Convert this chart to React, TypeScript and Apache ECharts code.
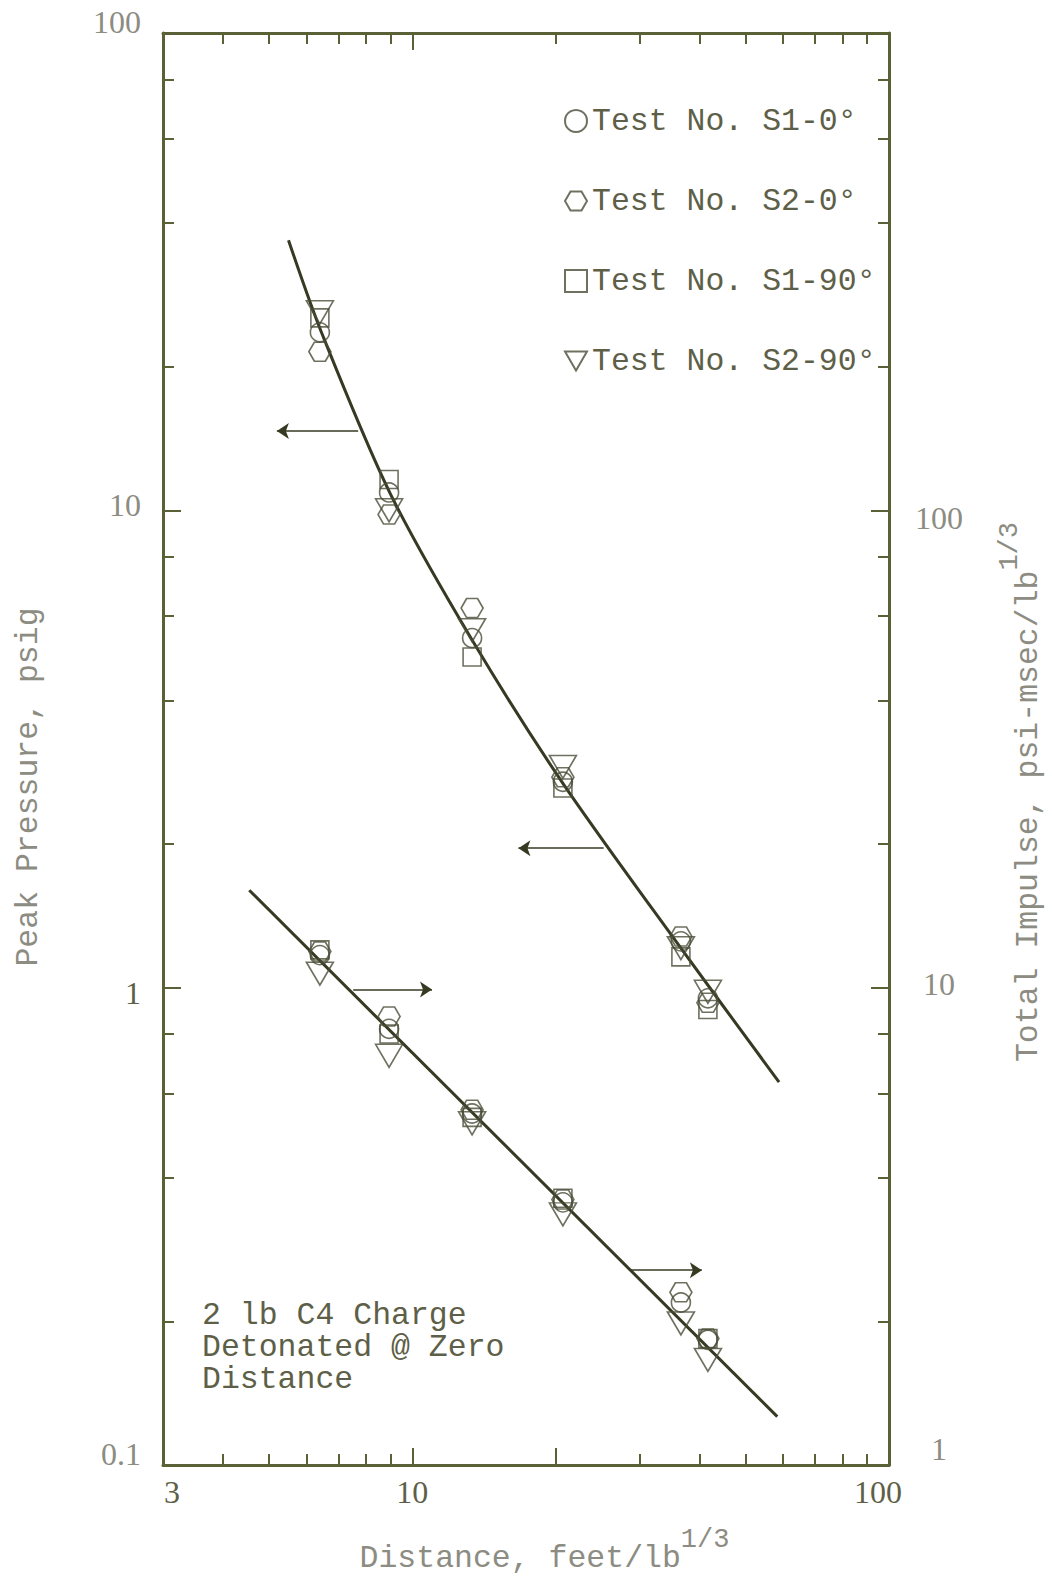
import { useEffect, useRef } from "react";
import * as echarts from "echarts";

const MONO = '"Liberation Mono", "DejaVu Sans Mono", monospace';
const SERIF = '"Liberation Serif", "DejaVu Serif", serif';

const INK = "#363a22";
const MARK = "#4b4e38";
const FRAME = "#5a6137";
const TEXT = "#5e5f48";
const FAINT = "#8c8c82";

// Scaled distance of the six gauge stations, feet/lb^1/3
const stationDist = [6.4, 8.94, 13.35, 20.7, 36.6, 41.7];

// Peak side-on pressure, psig (left axis)
const pressS1_0 = [23.6, 10.9, 5.4, 2.7, 1.25, 0.95];
const pressS2_0 = [21.5, 9.8, 6.24, 2.76, 1.28, 0.93];
const pressS1_90 = [25.3, 11.6, 4.93, 2.62, 1.16, 0.9];
const pressS2_90 = [26.0, 10.0, 5.61, 2.9, 1.21, 0.98];

// Total impulse, psi-msec/lb^1/3 (right axis)
const impS1_0 = [11.7, 8.2, 5.45, 3.55, 2.19, 1.83];
const impS2_0 = [11.9, 8.7, 5.55, 3.6, 2.3, 1.84];
const impS1_90 = [12.0, 8.0, 5.35, 3.62, null, 1.84];
const impS2_90 = [10.7, 7.2, 5.2, 3.35, 1.98, 1.66];

// Faired curves through the data
const pressFitDist = [5.5, 6.46, 8.98, 13.35, 20.7, 36.6, 58.8];
const pressFit = [36.8, 23.5, 10.87, 5.35, 2.68, 1.21, 0.634];
const impFitDist = [4.55, 58.3];
const impFit = [16.0, 1.263];

// Arrows tying each curve to its axis: [from distance, to distance, level]
const pressArrows = [
  [7.7, 5.2, 14.66],
  [25.2, 16.7, 1.96],
];
const impArrows = [
  [7.52, 11.0, 9.91],
  [28.5, 40.5, 2.56],
];

// Axis ticks and labels
const xLabels = [3, 10, 100];
const xMinor = [4, 5, 6, 7, 8, 9, 30, 40, 50, 60, 70, 80, 90];
const xMajor = [10, 20];
const leftLabels = [0.1, 1, 10, 100];
const leftMinor = [0.2, 0.4, 0.6, 0.8, 2, 4, 6, 8, 20, 40, 60, 80];
const leftMajor = [1, 10];
const rightLabels = [1, 10, 100];
const rightMinor = [2, 4, 6, 8, 20, 40, 60, 80, 200, 400, 600, 800];
const rightMajor = [10, 100];

const TESTS = [
  "Test No. S1-0°",
  "Test No. S2-0°",
  "Test No. S1-90°",
  "Test No. S2-90°",
];

const HEX = "path://M0,8.66L5,0L15,0L20,8.66L15,17.32L5,17.32Z";
const TRI = "path://M0,0L20,0L10,17.32Z";
const symbols: any[] = ["circle", HEX, "rect", TRI];
const sizes: any[] = [19, [22, 19], 18, [27, 23]];

const pressSets = [pressS1_0, pressS2_0, pressS1_90, pressS2_90];
const impSets = [impS1_0, impS2_0, impS1_90, impS2_90];

const pairs = (xs: number[], ys: (number | null)[]) =>
  xs
    .map((x, i) => [x, ys[i]])
    .filter((p) => p[1] !== null && p[1] !== undefined);

const key = (v: number) => String(Number(Number(v).toPrecision(3)));
const richName = (prefix: string, v: number) => prefix + key(v).replace(".", "p");

const tickStyle = { color: FRAME, width: 2 };
const frameLine = { show: true, onZero: false, lineStyle: { color: FRAME, width: 3 } };

function tickAxis(position: string, min: number, max: number, values: number[], length: number, line: boolean) {
  return {
    type: "log",
    logBase: 10,
    min,
    max,
    position,
    axisLine: line ? frameLine : { show: false },
    axisTick: { show: true, inside: true, length, customValues: values, lineStyle: tickStyle },
    axisLabel: { show: false },
    splitLine: { show: false },
    minorTick: { show: false },
  };
}

export default function App() {
  const ref = useRef<HTMLDivElement>(null);

  useEffect(() => {
    document.body.style.margin = "0";
    if (!ref.current) return;
    const chart = echarts.init(ref.current, undefined, { renderer: "svg" });

    const lbl = (color: string, padding: number[]) => ({ fontFamily: SERIF, fontSize: 32, color, padding });
    const xRich: any = {
      x3: lbl(TEXT, [0, 0, 0, 18]),
      x10: lbl(TEXT, [0, 0, 0, 0]),
      x100: lbl(TEXT, [0, 22, 0, 0]),
    };
    const leftRich: any = {
      l100: lbl(FAINT, [0, 0, 22, 0]),
      l10: lbl(FAINT, [0, 0, 10, 0]),
      l1: lbl(TEXT, [10, 0, 0, 0]),
      l0p1: lbl(FAINT, [0, 0, 22, 0]),
    };
    const rightRich: any = {
      r100: lbl(FAINT, [16, 0, 0, 0]),
      r10: lbl(FAINT, [0, 0, 8, 0]),
      r1: lbl(FAINT, [0, 0, 32, 0]),
    };

    // main text sits low, the 1/3 exponent rides high
    const nameRich = (color: string) => ({
      m: { fontFamily: MONO, fontSize: 31.5, color, lineHeight: 32, padding: [18, 0, 0, 0] },
      s: { fontFamily: MONO, fontSize: 27, color, lineHeight: 28, padding: [0, 0, 18, 0] },
    });

    const series: any[] = [];
    TESTS.forEach((name, i) => {
      const common = {
        type: "scatter",
        name,
        symbol: symbols[i],
        symbolSize: sizes[i],
        itemStyle: { color: "rgba(0,0,0,0)", borderColor: MARK, borderWidth: 1.6 },
        z: 3,
      };
      series.push({ ...common, xAxisIndex: 0, yAxisIndex: 0, data: pairs(stationDist, pressSets[i]) });
      series.push({ ...common, xAxisIndex: 0, yAxisIndex: 1, data: pairs(stationDist, impSets[i]) });
    });

    const arrowLine = (arrows: number[][]) => ({
      silent: true,
      symbol: ["none", "arrow"],
      symbolSize: 12,
      label: { show: false },
      lineStyle: { color: INK, width: 1.5, type: "solid" },
      emphasis: { disabled: true },
      data: arrows.map((a) => [{ coord: [a[0], a[2]] }, { coord: [a[1], a[2]] }]),
    });

    series.push({
      type: "line",
      name: "pressure fit",
      xAxisIndex: 0,
      yAxisIndex: 0,
      data: pressFitDist.map((d, i) => [d, pressFit[i]]),
      smooth: 0.3,
      showSymbol: false,
      symbol: "none",
      lineStyle: { color: INK, width: 3 },
      z: 2,
      markLine: arrowLine(pressArrows),
    });
    series.push({
      type: "line",
      name: "impulse fit",
      xAxisIndex: 0,
      yAxisIndex: 1,
      data: impFitDist.map((d, i) => [d, impFit[i]]),
      showSymbol: false,
      symbol: "none",
      lineStyle: { color: INK, width: 3 },
      z: 2,
      markLine: arrowLine(impArrows),
    });

    chart.setOption({
      animation: false,
      backgroundColor: "#ffffff",
      grid: { left: 163, top: 33, width: 726, height: 1432, containLabel: false, outerBoundsMode: "none" },
      legend: {
        data: TESTS,
        orient: "vertical",
        left: 559,
        top: 100,
        itemWidth: 22,
        itemHeight: 22,
        itemGap: 48,
        selectedMode: false,
        textStyle: { fontFamily: MONO, fontSize: 31.5, color: TEXT },
      },
      xAxis: [
        {
          type: "log",
          logBase: 10,
          min: 3,
          max: 100,
          position: "bottom",
          axisLine: frameLine,
          axisTick: { show: true, inside: true, length: 11, customValues: xMinor, lineStyle: tickStyle },
          axisLabel: {
            customValues: xLabels,
            margin: 11,
            fontFamily: SERIF,
            fontSize: 32,
            color: TEXT,
            formatter: (v: number) => `{${richName("x", v)}|${key(v)}}`,
            rich: xRich,
          },
          splitLine: { show: false },
          minorTick: { show: false },
          name: "{m|Distance, feet/lb}{s|1/3}",
          nameLocation: "middle",
          nameGap: 68,
          nameTextStyle: { rich: nameRich(FAINT), padding: [0, 0, 0, 37] },
        },
        tickAxis("top", 3, 100, [...xMinor, 20], 11, true),
        tickAxis("bottom", 3, 100, xMajor, 17, false),
        tickAxis("top", 3, 100, [10], 17, false),
      ],
      yAxis: [
        {
          type: "log",
          logBase: 10,
          min: 0.1,
          max: 100,
          position: "left",
          axisLine: frameLine,
          axisTick: { show: true, inside: true, length: 11, customValues: leftMinor, lineStyle: tickStyle },
          axisLabel: {
            customValues: leftLabels,
            margin: 22,
            fontFamily: SERIF,
            fontSize: 32,
            color: FAINT,
            formatter: (v: number) => `{${richName("l", v)}|${key(v)}}`,
            rich: leftRich,
          },
          splitLine: { show: false },
          minorTick: { show: false },
          name: "Peak Pressure, psig",
          nameLocation: "middle",
          nameRotate: 90,
          nameGap: 119,
          nameTextStyle: { fontFamily: MONO, fontSize: 31.5, color: FAINT, padding: [0, 76, 0, 0] },
        },
        {
          type: "log",
          logBase: 10,
          min: 1,
          max: 1000,
          position: "right",
          axisLine: frameLine,
          axisTick: { show: true, inside: true, length: 11, customValues: rightMinor, lineStyle: tickStyle },
          axisLabel: {
            customValues: rightLabels,
            margin: 50,
            align: "center",
            fontFamily: SERIF,
            fontSize: 32,
            color: FAINT,
            formatter: (v: number) => `{${richName("r", v)}|${key(v)}}`,
            rich: rightRich,
          },
          splitLine: { show: false },
          minorTick: { show: false },
          name: "{m|Total Impulse, psi-msec/lb}{s|1/3}",
          nameLocation: "middle",
          nameRotate: 90,
          nameGap: 114,
          nameTextStyle: { rich: nameRich(FAINT), padding: [0, 86, 0, 0] },
        },
        tickAxis("left", 0.1, 100, leftMajor, 18, false),
        tickAxis("right", 1, 1000, rightMajor, 18, false),
      ],
      graphic: [
        {
          type: "text",
          left: 202,
          top: 1299,
          silent: true,
          style: {
            text: "2 lb C4 Charge\nDetonated @ Zero\nDistance",
            fontFamily: MONO,
            fontSize: 31.5,
            lineHeight: 32,
            fill: TEXT,
          },
        },
      ],
      series,
    });

    return () => chart.dispose();
  }, []);

  return <div ref={ref} style={{ width: 1052, height: 1583 }} />;
}
